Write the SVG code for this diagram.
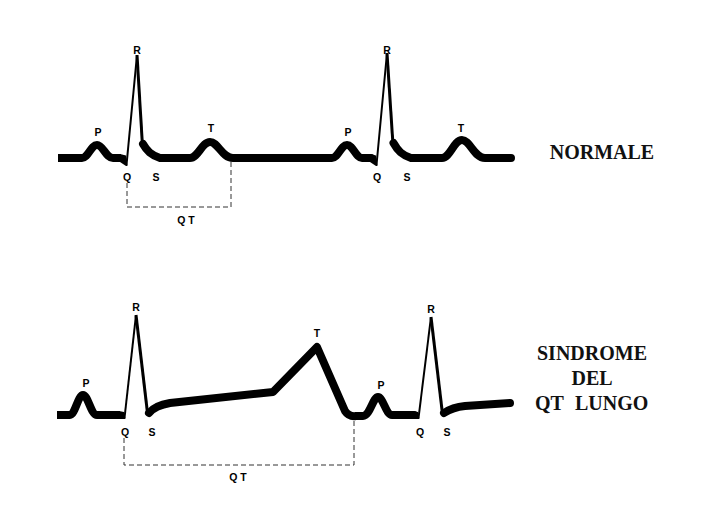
<svg xmlns="http://www.w3.org/2000/svg" width="709" height="531" viewBox="0 0 709 531">
<style>
.tr{fill:none;stroke:#000;stroke-width:8;stroke-linejoin:round;stroke-linecap:butt}
.ts{fill:none;stroke:#000;stroke-width:8;stroke-linejoin:round;stroke-linecap:round}
.up{fill:none;stroke:#000;stroke-width:2;stroke-linejoin:round}
.dn{fill:none;stroke:#000;stroke-width:3;stroke-linejoin:round}
.tp{fill:#000;stroke:none}
.lb{font-family:"Liberation Sans",Arial,sans-serif;font-weight:bold;font-size:10.5px;fill:#000;text-anchor:middle}
.tt{font-family:"Liberation Serif","Times New Roman",serif;font-weight:bold;font-size:20px;fill:#111;text-anchor:middle}
.qt{fill:none;stroke:#333;stroke-width:1;stroke-dasharray:5,3}
</style>
<rect width="709" height="531" fill="#fff"/>
<g id="trace-normale">
<path class="tr" d="M58,158 L82,158 C88,158 91,145 97,145 C103,145 106,158 113,158 L121,158"/>
<polygon class="tp" points="120,154 126,155.5 127.5,166 126,166 120,162"/>
<path class="up" d="M126.5,165 L137,55"/>
<path class="dn" d="M137,55 L142.5,146"/>
<path class="ts" d="M143,144 C147,151 151,155 160,158 L190,158 C198,158 202,142 210,142 C218,142 222,158 233,158 L332,158 C338,158 341,145 347,145 C353,145 356,158 362,158 L371,158"/>
<polygon class="tp" points="370,154 376,155.5 377.5,166 376,166 370,162"/>
<path class="up" d="M376.5,165 L387,53"/>
<path class="dn" d="M387,53 L393,145"/>
<path class="ts" d="M393.5,143 C398,151 402,155 411,158 L442,158 C450,158 454,140 462,140 C470,140 474,158 485,158 L511,158"/>
</g>
<g id="labels-normale">
<text class="lb" x="98" y="135.5">P</text>
<text class="lb" x="137" y="53.5">R</text>
<text class="lb" x="127" y="180.5">Q</text>
<text class="lb" x="156" y="180.5">S</text>
<text class="lb" x="211" y="131.5">T</text>
<text class="lb" x="348" y="135.5">P</text>
<text class="lb" x="387" y="53.5">R</text>
<text class="lb" x="377" y="180.5">Q</text>
<text class="lb" x="407" y="180.5">S</text>
<text class="lb" x="461" y="131.5">T</text>
<text class="lb" x="186" y="223.5">Q T</text>
</g>
<g id="trace-lungo">
<path class="tr" d="M57,415 L70,415 C75,415 78,395 83,395 C88,395 91,415 97,415 L120,415"/>
<polygon class="tp" points="119,411 124,412 125.5,419 124,419 119,419"/>
<path class="up" d="M124.5,418 L136,315"/>
<path class="dn" d="M136,315 L147.5,413"/>
<path class="ts" d="M149,413 C153,408 158,405 170,403 L273,392 L317,347 L345,411 Q349,417 356,416 L363,416 C370,416 373,397 378,397 C383,397 386,415 392,415 L414,415"/>
<polygon class="tp" points="413,411 418,412 419.5,419 418,419 413,419"/>
<path class="up" d="M418.5,418 L431,317"/>
<path class="dn" d="M431,317 L442.5,414"/>
<path class="ts" d="M444,413 C450,409 455,407 465,406 L510,403"/>
</g>
<g id="labels-lungo">
<text class="lb" x="86" y="386.5">P</text>
<text class="lb" x="136" y="310.5">R</text>
<text class="lb" x="125" y="435.5">Q</text>
<text class="lb" x="152" y="435.5">S</text>
<text class="lb" x="317" y="336.5">T</text>
<text class="lb" x="381" y="388.5">P</text>
<text class="lb" x="431" y="312.5">R</text>
<text class="lb" x="420" y="435.5">Q</text>
<text class="lb" x="447" y="435.5">S</text>
<text class="lb" x="238" y="480.5">Q T</text>
</g>
<g id="connectors">
<path class="qt" d="M127,183 L127,207 L231,207 L231,162"/>
<path class="qt" d="M124,438 L124,465 L354,465 L354,420"/>
</g>
<g id="title-normale">
<text class="tt" x="602" y="159">NORMALE</text>
</g>
<g id="title-lungo">
<text class="tt" x="592" y="360">SINDROME</text>
<text class="tt" x="592" y="385">DEL</text>
<text class="tt" x="535" y="410" style="text-anchor:start">QT<tspan dx="11">LUNGO</tspan></text>
</g>
</svg>
